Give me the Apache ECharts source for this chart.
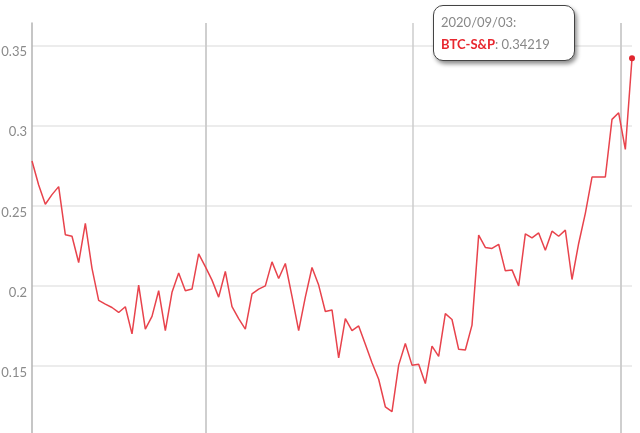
<!DOCTYPE html>
<html>
<head>
<meta charset="utf-8">
<style>
  html, body { margin: 0; padding: 0; background: #fff; }
  #chart { width: 640px; height: 433px; }
</style>
<script src="https://cdn.jsdelivr.net/npm/echarts@6.0.0/dist/echarts.min.js"></script>
</head>
<body>
<div id="chart"></div>
<script>
// ---- data ----
const seriesName = 'BTC-S&P';
const dates = [
  '2018-12-13','2018-12-20','2018-12-27',
  '2019-01-03','2019-01-10','2019-01-17','2019-01-24','2019-01-31',
  '2019-02-07','2019-02-14','2019-02-21','2019-02-28',
  '2019-03-07','2019-03-14','2019-03-21','2019-03-28',
  '2019-04-04','2019-04-11','2019-04-18','2019-04-25',
  '2019-05-02','2019-05-09','2019-05-16','2019-05-23','2019-05-30',
  '2019-06-06','2019-06-13','2019-06-20','2019-06-27',
  '2019-07-04','2019-07-11','2019-07-18','2019-07-25',
  '2019-08-01','2019-08-08','2019-08-15','2019-08-22','2019-08-29',
  '2019-09-05','2019-09-12','2019-09-19','2019-09-26',
  '2019-10-03','2019-10-10','2019-10-17','2019-10-24','2019-10-31',
  '2019-11-07','2019-11-14','2019-11-21','2019-11-28',
  '2019-12-05','2019-12-12','2019-12-19','2019-12-26',
  '2020-01-02','2020-01-09','2020-01-16','2020-01-23','2020-01-30',
  '2020-02-06','2020-02-13','2020-02-20','2020-02-27',
  '2020-03-05','2020-03-12','2020-03-19','2020-03-26',
  '2020-04-02','2020-04-09','2020-04-16','2020-04-23','2020-04-30',
  '2020-05-07','2020-05-14','2020-05-21','2020-05-28',
  '2020-06-04','2020-06-11','2020-06-18','2020-06-25',
  '2020-07-02','2020-07-09','2020-07-16','2020-07-23','2020-07-30',
  '2020-08-06','2020-08-13','2020-08-20','2020-08-27',
  '2020-09-03'
];
const values = [
  0.278, 0.263, 0.251, 0.257, 0.262, 0.232, 0.231, 0.2146, 0.239, 0.211,
  0.191, 0.1886, 0.1865, 0.1834, 0.187, 0.170, 0.2005, 0.173, 0.181, 0.197,
  0.172, 0.196, 0.208, 0.197, 0.198, 0.220, 0.212, 0.2036, 0.193, 0.209,
  0.187, 0.1796, 0.173, 0.195, 0.198, 0.200, 0.215, 0.2046, 0.214, 0.1934,
  0.172, 0.193, 0.2115, 0.2005, 0.184, 0.185, 0.155, 0.1796, 0.172, 0.175,
  0.1636, 0.152, 0.1417, 0.1245, 0.1215, 0.1505, 0.164, 0.1505, 0.151, 0.139,
  0.1624, 0.156, 0.1827, 0.179, 0.1604, 0.160, 0.1755, 0.2317, 0.224, 0.2234,
  0.226, 0.2094, 0.210, 0.200, 0.2325, 0.230, 0.2331, 0.2223, 0.2342, 0.231,
  0.2348, 0.204, 0.2265, 0.2453, 0.268, 0.268, 0.268, 0.304, 0.3081, 0.2852,
  0.34219
];
const yTicks = [0.1, 0.15, 0.2, 0.25, 0.3, 0.35];
const xGridDates = ['2019-06-13', '2020-01-17', '2020-08-22'];

// ---- chart ----
const lineColor = '#e8434c';
const lastIdx = values.length - 1;
const seriesData = dates.map((d, i) => {
  if (i === lastIdx) {
    return { value: [d, values[i]], symbol: 'circle', symbolSize: 5,
             itemStyle: { color: '#e0262e' } };
  }
  return [d, values[i]];
});

const chart = echarts.init(document.getElementById('chart'), null, { renderer: 'canvas' });
chart.setOption({
  animation: false,
  textStyle: { fontFamily: 'Lato, sans-serif' },
  grid: { left: 32, right: 8, top: 23, bottom: -13, containLabel: false, outerBoundsMode: 'none' },
  tooltip: {
    trigger: 'axis',
    axisPointer: { type: 'none' },
    alwaysShowContent: true,
    showContent: true,
    transitionDuration: 0,
    position: [433, 5],
    backgroundColor: '#fff',
    borderColor: '#444',
    borderWidth: 1.5,
    borderRadius: 10,
    padding: [5, 7],
    extraCssText: 'width:126px;box-shadow:2px 3px 4px rgba(0,0,0,0.45);',
    textStyle: { fontFamily: 'Lato, sans-serif', fontSize: 13, color: '#888' },
    formatter: function (params) {
      const p = Array.isArray(params) ? params[0] : params;
      const d = dates[p.dataIndex].replace(/-/g, '/');
      return '<div style="line-height:22px;color:#888;font-size:13px;font-family:Lato,sans-serif">' +
        d + ':<br/><span style="color:#e8272f;font-weight:bold">' + seriesName +
        '</span>: ' + values[p.dataIndex] + '</div>';
    }
  },
  xAxis: {
    type: 'time',
    min: dates[0],
    max: dates[lastIdx],
    axisLine: { show: false },
    axisTick: { show: false, customValues: xGridDates },
    axisLabel: { show: false },
    splitLine: { show: true, lineStyle: { color: '#cdcdcd', width: 1.5 } }
  },
  yAxis: {
    type: 'value',
    min: 0.1,
    max: 0.3642,
    axisLine: { show: true, lineStyle: { color: '#b3b3b3', width: 1.5 } },
    axisTick: { show: false, customValues: yTicks },
    axisLabel: {
      customValues: yTicks,
      color: '#8a8a8a',
      fontSize: 13,
      fontFamily: 'Lato, sans-serif',
      margin: 5,
      verticalAlign: 'top'
    },
    splitLine: { show: true, lineStyle: { color: '#e6e6e6', width: 1.5 } }
  },
  series: [{
    name: seriesName,
    type: 'line',
    data: seriesData,
    showSymbol: true,
    symbol: 'none',
    lineStyle: { color: lineColor, width: 1.5 },
    itemStyle: { color: lineColor },
    emphasis: { disabled: true }
  }]
});
chart.dispatchAction({ type: 'showTip', seriesIndex: 0, dataIndex: lastIdx });
</script>
</body>
</html>
